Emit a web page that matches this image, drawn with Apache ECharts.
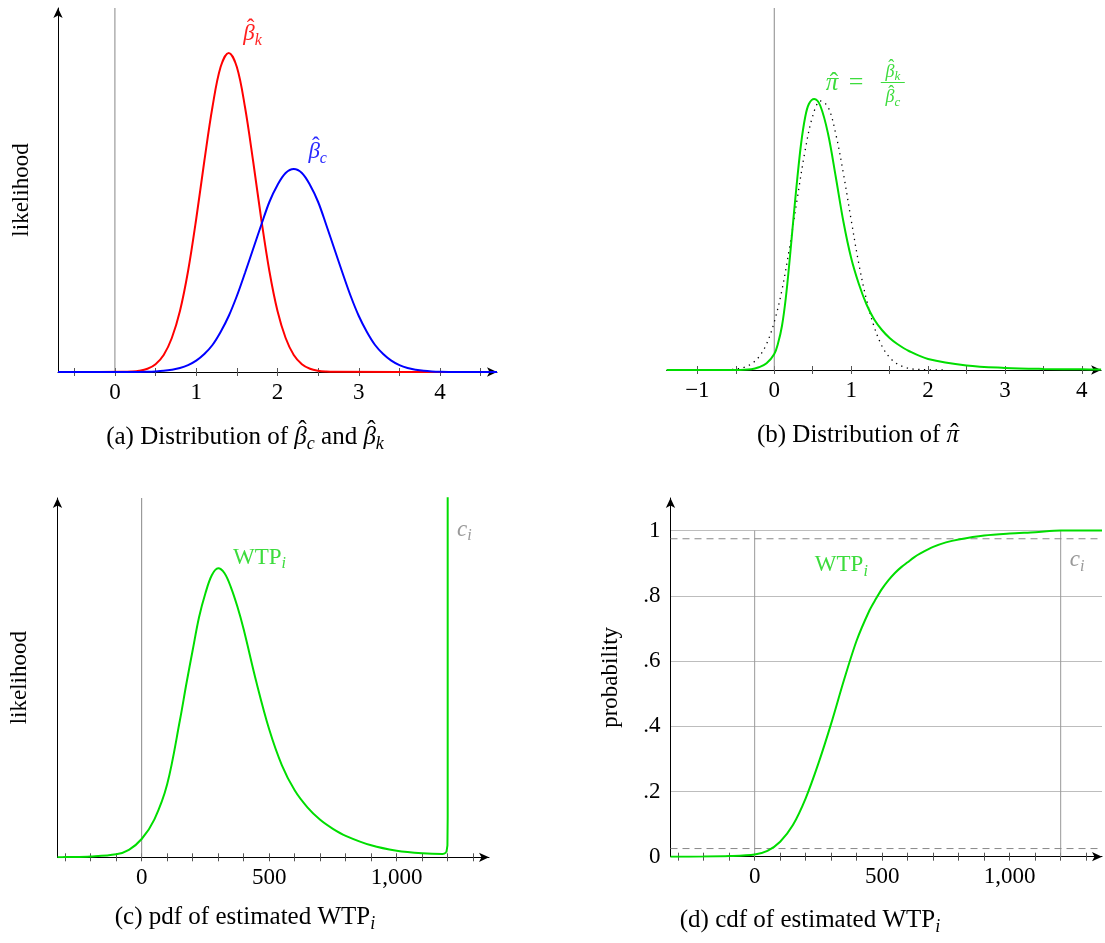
<!DOCTYPE html>
<html>
<head>
<meta charset="utf-8">
<script src="https://cdn.jsdelivr.net/npm/echarts@6/dist/echarts.min.js"></script>
<style>
html, body { margin: 0; padding: 0; background: #fff; }
#main { width: 1105px; height: 943px; }
</style>
</head>
<body>
<div id="main"></div>
<script>
// ---- (a) distributions of beta_c and beta_k ----
var betaK = [[-0.7, 0], [0.1, 0.0013], [0.2, 0.004], [0.3, 0.012], [0.4, 0.032], [0.5, 0.078], [0.6, 0.17],
  [0.7, 0.34], [0.8, 0.61], [0.9, 1.01], [1.0, 1.53], [1.1, 2.11], [1.2, 2.65], [1.3, 3.05], [1.4, 3.19],
  [1.5, 3.05], [1.6, 2.65], [1.7, 2.11], [1.8, 1.53], [1.9, 1.01], [2.0, 0.61], [2.1, 0.34], [2.2, 0.17],
  [2.3, 0.078], [2.4, 0.032], [2.5, 0.012], [2.6, 0.004], [2.7, 0.0013], [4.7, 0]];
var betaC = [[-0.7, 0], [0.2, 0.0007], [0.4, 0.003], [0.5, 0.006], [0.6, 0.012], [0.7, 0.023], [0.8, 0.04],
  [0.9, 0.069], [1.0, 0.114], [1.1, 0.18], [1.2, 0.27], [1.3, 0.40], [1.4, 0.56], [1.5, 0.76], [1.6, 0.99],
  [1.7, 1.23], [1.8, 1.47], [1.9, 1.70], [2.0, 1.87], [2.1, 1.99], [2.2, 2.03], [2.3, 1.99], [2.4, 1.87],
  [2.5, 1.70], [2.6, 1.47], [2.7, 1.23], [2.8, 0.99], [2.9, 0.76], [3.0, 0.56], [3.1, 0.40], [3.2, 0.27],
  [3.3, 0.18], [3.4, 0.114], [3.5, 0.069], [3.6, 0.04], [3.7, 0.023], [3.8, 0.012], [3.9, 0.006],
  [4.0, 0.003], [4.2, 0.0007], [4.7, 0]];
var ticksA = [-0.5, 0, 0.5, 1, 1.5, 2, 2.5, 3, 3.5, 4, 4.5];
var labelsA = [0, 1, 2, 3, 4];

// ---- (b) distribution of pi = beta_k / beta_c ----
var piHat = [[-1.4, 0], [-0.5, 0], [-0.3, 0.007], [-0.2, 0.027], [-0.1, 0.067], [0, 0.16], [0.05, 0.27],
  [0.1, 0.44], [0.15, 0.72], [0.2, 1.10], [0.25, 1.52], [0.3, 1.92], [0.35, 2.27], [0.4, 2.52], [0.45, 2.66],
  [0.52, 2.71], [0.6, 2.64], [0.7, 2.36], [0.8, 1.93], [0.9, 1.48], [1.0, 1.12], [1.1, 0.86], [1.2, 0.655],
  [1.3, 0.505], [1.4, 0.40], [1.5, 0.32], [1.6, 0.26], [1.75, 0.19], [2.0, 0.11], [2.5, 0.045], [3.0, 0.021],
  [3.5, 0.011], [4.0, 0.007], [4.25, 0.005]];
var piNormal = [[-0.7, 0], [-0.6, 0.003], [-0.5, 0.01], [-0.4, 0.025], [-0.3, 0.06], [-0.2, 0.13], [-0.1, 0.26],
  [0, 0.48], [0.1, 0.80], [0.2, 1.23], [0.3, 1.72], [0.4, 2.19], [0.5, 2.54], [0.6, 2.69], [0.7, 2.63],
  [0.8, 2.36], [0.9, 1.96], [1.0, 1.50], [1.1, 1.06], [1.2, 0.70], [1.3, 0.43], [1.4, 0.24], [1.5, 0.125],
  [1.6, 0.06], [1.7, 0.027], [1.8, 0.01], [2.0, 0.002], [2.2, 0]];
var ticksB = [-1, -0.5, 0, 0.5, 1, 1.5, 2, 2.5, 3, 3.5, 4];
var labelsB = [-1, 0, 1, 2, 3, 4];

// ---- (c) pdf of WTP ----
var wtpPdf = [[-330, 0], [-300, 0.002], [-200, 0.008], [-100, 0.03], [-50, 0.075], [0, 0.183], [50, 0.38],
  [100, 0.73], [150, 1.37], [175, 1.73], [200, 2.07], [225, 2.40], [250, 2.64], [275, 2.82], [300, 2.89],
  [325, 2.84], [350, 2.70], [375, 2.51], [400, 2.28], [450, 1.75], [500, 1.28], [550, 0.92], [600, 0.67],
  [650, 0.50], [700, 0.375], [750, 0.285], [800, 0.215], [900, 0.12], [1000, 0.066], [1100, 0.04],
  [1180, 0.033], [1195, 0.05]];
var wtpSpike = [[1195, 0.05], [1199, 0.12], [1200, 0.4], [1200, 3.6]];
var ticksC = [-300, -200, -100, 0, 100, 200, 300, 400, 500, 600, 700, 800, 900, 1000, 1100, 1200, 1300];
var labelsC = [0, 500, 1000];

// ---- (d) cdf of WTP ----
var wtpCdf = [[-330, 0], [-200, 0.0005], [-100, 0.002], [0, 0.007], [50, 0.018], [100, 0.046], [150, 0.097],
  [200, 0.179], [250, 0.286], [300, 0.408], [350, 0.541], [400, 0.663], [450, 0.755], [475, 0.790],
  [500, 0.822], [525, 0.848], [550, 0.870], [575, 0.888], [600, 0.903], [625, 0.918], [650, 0.930],
  [700, 0.950], [750, 0.964], [800, 0.973], [900, 0.985], [1000, 0.991], [1100, 0.995], [1200, 1.0],
  [1362, 1.0]];
var labelsDY = [0, 0.2, 0.4, 0.6, 0.8, 1];
var quantiles = [0.025, 0.975];
var costC = 1200;

var FONT = '"Liberation Serif", "DejaVu Serif", serif';
var GREEN = '#00dd00';
var GREEN_TXT = '#3ddc3d';
var GRAY_TXT = '#999999';

var chart = echarts.init(document.getElementById('main'));

function fmtPlain(v) { return v < 0 ? '\u2212' + Math.abs(v) : String(v); }
function fmtThousands(v) { return String(v).replace(/\B(?=(\d{3})+(?!\d))/g, ','); }
function fmtProb(v) { return (v === 0 || v === 1) ? String(v) : String(+v.toFixed(1)).replace(/^0/, ''); }

function xMain(g, min, max, ticks, labels, fmt) {
  return {
    type: 'value', gridIndex: g, min: min, max: max, position: 'bottom',
    axisLine: { show: true, onZero: false, symbol: ['none', 'arrow'], symbolSize: [7, 10],
      lineStyle: { color: '#000', width: 1 } },
    axisTick: { show: true, customValues: ticks, length: 4, lineStyle: { color: '#555' } },
    axisLabel: { show: true, customValues: labels, formatter: fmt, color: '#000', fontSize: 23,
      fontFamily: FONT, margin: 9 },
    splitLine: { show: false }
  };
}
function xInner(g, min, max, ticks) {
  return {
    type: 'value', gridIndex: g, min: min, max: max, position: 'bottom',
    axisLine: { show: false },
    axisTick: { show: true, inside: true, customValues: ticks, length: 4, lineStyle: { color: '#555' } },
    axisLabel: { show: false }, splitLine: { show: false }
  };
}
function yPlain(g, max, name, gap, showLine) {
  return {
    type: 'value', gridIndex: g, min: 0, max: max,
    name: name, nameLocation: 'middle', nameRotate: 90, nameGap: gap,
    nameTextStyle: { fontSize: 23, fontFamily: FONT, color: '#000' },
    axisLine: { show: showLine, onZero: false, symbol: ['none', 'arrow'], symbolSize: [7, 10],
      lineStyle: { color: '#000', width: 1 } },
    axisTick: { show: false }, axisLabel: { show: false }, splitLine: { show: false }
  };
}
function curve(g, data, color, extra) {
  var s = {
    type: 'line', xAxisIndex: g, yAxisIndex: g, data: data, showSymbol: false, symbol: 'none',
    smooth: 0.35, silent: true, animation: false, z: 3,
    lineStyle: { color: color, width: 2 }
  };
  for (var k in extra) s[k] = extra[k];
  return s;
}
function vline(g, x, y0, y1, color) {
  return {
    type: 'line', xAxisIndex: g, yAxisIndex: g, data: [[x, y0], [x, y1]], symbol: 'none',
    silent: true, animation: false, z: 1, lineStyle: { color: color, width: 1 }
  };
}
function hline(g, y, x0, x1) {
  return {
    type: 'line', xAxisIndex: g, yAxisIndex: g, data: [[x0, y], [x1, y]], symbol: 'none',
    silent: true, animation: false, z: 1, lineStyle: { color: '#888', width: 1, type: [7, 5] }
  };
}

var YMAX = [3.64, 3.62, 3.593, 1.1];

chart.setOption({
  animation: false,
  textStyle: { fontFamily: FONT },
  grid: [
    { left: 58, top: 8, width: 439, height: 364, outerBoundsMode: 'none' },
    { left: 666.6, top: 8, width: 434.5, height: 362, outerBoundsMode: 'none' },
    { left: 57.5, top: 498, width: 431.5, height: 359.3, outerBoundsMode: 'none' },
    { left: 670.5, top: 498, width: 431.5, height: 358.7, outerBoundsMode: 'none' }
  ],
  xAxis: [
    xMain(0, -0.7, 4.7, ticksA, labelsA, fmtPlain),
    xMain(1, -1.4, 4.25, ticksB, labelsB, fmtPlain),
    xMain(2, -330, 1362, ticksC, labelsC, fmtThousands),
    xMain(3, -330, 1362, ticksC, labelsC, fmtThousands),
    xInner(0, -0.7, 4.7, ticksA),
    xInner(1, -1.4, 4.25, ticksB),
    xInner(2, -330, 1362, ticksC),
    xInner(3, -330, 1362, ticksC)
  ],
  yAxis: [
    yPlain(0, YMAX[0], 'likelihood', 25, true),
    yPlain(1, YMAX[1], '', 20, false),
    yPlain(2, YMAX[2], 'likelihood', 26, true),
    {
      type: 'value', gridIndex: 3, min: 0, max: YMAX[3],
      name: 'probability', nameLocation: 'middle', nameRotate: 90, nameGap: 48,
      nameTextStyle: { fontSize: 23, fontFamily: FONT, color: '#000' },
      axisLine: { show: true, onZero: false, symbol: ['none', 'arrow'], symbolSize: [7, 10],
        lineStyle: { color: '#000', width: 1 } },
      axisTick: { show: false, customValues: labelsDY },
      axisLabel: { show: true, customValues: labelsDY, formatter: fmtProb, color: '#000', fontSize: 23,
        fontFamily: FONT, margin: 10 },
      splitLine: { show: true, lineStyle: { color: '#bdbdbd', width: 1 } }
    }
  ],
  series: [
    vline(0, 0, 0, YMAX[0], '#888'),
    curve(0, betaK, '#ff0000'),
    curve(0, betaC, '#0000ff'),

    vline(1, 0, 0, YMAX[1], '#888'),
    curve(1, piNormal, '#000', { lineStyle: { color: '#000', width: 1.3, type: [1.3, 4.5] }, z: 2 }),
    curve(1, piHat, GREEN),

    vline(2, 0, 0, YMAX[2], '#888'),
    curve(2, wtpPdf, GREEN),
    curve(2, wtpSpike, GREEN, { smooth: false }),

    vline(3, 0, 0, 1, '#999'),
    vline(3, costC, 0, 1, '#999'),
    hline(3, quantiles[0], -330, 1362),
    hline(3, quantiles[1], -330, 1362),
    curve(3, wtpCdf, GREEN, { smooth: 0.3 })
  ]
});

// ---- annotations: small math typesetter (hat, italic, subscript) ----
var mctx = document.createElement('canvas').getContext('2d');
var MID = 0.34;
function fnt(size, italic) { return (italic ? 'italic ' : '') + size + 'px ' + FONT; }
function tw(t, size, italic) { mctx.font = fnt(size, italic); return mctx.measureText(t).width; }
function txt(x, y, t, font, color, align) {
  return { type: 'text', x: x, y: y, silent: true,
    style: { text: t, font: font, fill: color, align: align, verticalAlign: 'middle' } };
}
// kinds: r roman, m italic, b hatted tall italic, p hatted short italic, s italic subscript
function mathText(x, base, parts, size, color, align) {
  var sub = Math.round(size * 0.7);
  var items = parts.map(function (p) {
    var k = p[1], sz = k === 's' ? sub : size, it = k !== 'r';
    return { t: p[0], k: k, sz: sz, it: it, w: tw(p[0], sz, it) };
  });
  var total = 0;
  items.forEach(function (o) { total += o.w; });
  var cx = align === 'center' ? x - total / 2 : x;
  var out = [];
  items.forEach(function (o) {
    var b = o.k === 's' ? base + size * 0.18 : base;
    out.push(txt(cx, b - MID * o.sz, o.t, fnt(o.sz, o.it), color, 'left'));
    if (o.k === 'b' || o.k === 'p') {
      var raise = o.k === 'b' ? 0.24 * size : 0.02 * size;
      out.push(txt(cx + o.w / 2 + 0.07 * size, b - raise - MID * size, '\u02c6', fnt(size, false), color, 'center'));
    }
    cx += o.w;
  });
  return out;
}
function px(g, pt) { return chart.convertToPixel({ xAxisIndex: g, yAxisIndex: g }, pt); }

var pBk = px(0, [1.58, 3.30]);
var pBc = px(0, [2.38, 2.12]);
var pPi = px(1, [0.67, 2.78]);
var pWc = px(2, [358, 2.92]);
var pCc = px(2, [1237, 3.20]);
var pWd = px(3, [236, 0.871]);
var pCd = px(3, [1236, 0.886]);

var graphics = [].concat(
  mathText(pBk[0], pBk[1], [['\u03b2', 'b'], ['k', 's']], 23, '#ff2020'),
  mathText(pBc[0], pBc[1], [['\u03b2', 'b'], ['c', 's']], 23, '#2a2aff'),

  mathText(pPi[0], pPi[1], [['\u03c0', 'p']], 25, GREEN_TXT),
  mathText(pPi[0] + 23, pPi[1], [['=', 'r']], 26, GREEN_TXT),
  [{
    type: 'line', silent: true,
    shape: { x1: pPi[0] + 55, y1: pPi[1] - 9.5, x2: pPi[0] + 79, y2: pPi[1] - 9.5 },
    style: { stroke: GREEN_TXT, lineWidth: 1 }
  }],
  mathText(pPi[0] + 67, pPi[1] - 14, [['\u03b2', 'b'], ['k', 's']], 18, GREEN_TXT, 'center'),
  mathText(pPi[0] + 67, pPi[1] + 11.5, [['\u03b2', 'b'], ['c', 's']], 18, GREEN_TXT, 'center'),

  mathText(pWc[0], pWc[1], [['WTP', 'r'], ['i', 's']], 23, GREEN_TXT),
  mathText(pCc[0], pCc[1], [['c', 'm'], ['i', 's']], 23, GRAY_TXT),
  mathText(pWd[0], pWd[1], [['WTP', 'r'], ['i', 's']], 23, GREEN_TXT),
  mathText(pCd[0], pCd[1], [['c', 'm'], ['i', 's']], 23, GRAY_TXT),

  mathText(245, 445.5, [['(a) Distribution of ', 'r'], ['\u03b2', 'b'], ['c', 's'], [' and ', 'r'],
    ['\u03b2', 'b'], ['k', 's']], 25, '#000', 'center'),
  mathText(858, 443.5, [['(b) Distribution of ', 'r'], ['\u03c0', 'p']], 25, '#000', 'center'),
  mathText(245, 925.5, [['(c) pdf of estimated WTP', 'r'], ['i', 's']], 25, '#000', 'center'),
  mathText(810, 928.5, [['(d) cdf of estimated WTP', 'r'], ['i', 's']], 25, '#000', 'center')
);

chart.setOption({ graphic: graphics });
</script>
</body>
</html>
